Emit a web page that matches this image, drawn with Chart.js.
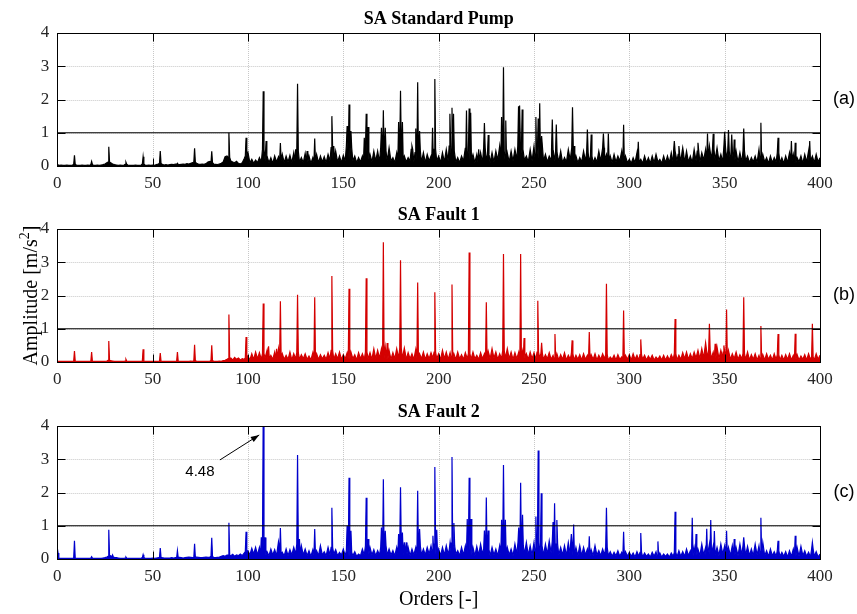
<!DOCTYPE html>
<html>
<head>
<meta charset="utf-8">
<script src="https://cdn.jsdelivr.net/npm/chart.js@4.4.1/dist/chart.umd.min.js"></script>
<style>
  body { margin: 0; background: #fff; }
  #wrap { position: relative; width: 857px; height: 614px; }
  canvas { position: absolute; left: 0; }
</style>
</head>
<body>
<div id="wrap">
  <canvas id="panelA" width="857" height="200" style="top:0px"></canvas>
  <canvas id="panelB" width="857" height="200" style="top:196px"></canvas>
  <canvas id="panelC" width="857" height="221" style="top:393px"></canvas>
</div>
<script>
// axis ticks
const orderTicks = [0, 50, 100, 150, 200, 250, 300, 350, 400];
const ampTicks = [0, 1, 2, 3, 4];
const thresholdLevel = 1;
const floorStep = 1; // noise floor read once per order

// --- SA Standard Pump ---
const peakOrdersA = [9,18,27,36,45,54,63,72,81,90,99,108,109.5,117,125,126,131,135,144,145,
  152,153,154,161,162,163,170,171,172,179,180,181,186,188,189,190,196.8,198,205.9,207,
  207.8,214.6,216,216.8,221,224,226,233,234,235.2,241.9,242.6,243.8,251,252.2,253,254,259.6,261.7,270.2,
  271,278,280,286.4,289,297,304.7,323.6,326,328,336,341,344,350,352,353.7,355,360,369,378,
  385,387,394.6];
const peakAmpsA = [0.32,0.14,0.58,0.11,0.28,0.45,0.08,0.53,0.44,1.0,0.85,2.25,0.75,0.69,0.5,2.47,0.45,0.83,1.5,0.6,
  1.2,1.85,1.05,0.85,1.57,1.17,1.15,1.68,1.15,1.32,2.26,1.32,0.6,1.13,2.52,1.05,1.15,2.62,1.57,1.75,
  1.57,1.67,1.73,1.6,0.5,1.29,0.93,1.47,2.97,1.37,1.8,1.82,1.7,1.47,1.43,1.89,0.9,1.4,1.25,1.77,
  0.6,1.1,0.95,0.98,0.98,1.24,0.73,0.75,0.6,0.55,0.7,0.98,0.97,1.03,1.08,0.95,0.8,1.13,1.3,0.85,
  0.75,0.7,0.75];
const floorA = [
  .04,.02,.03,.02,.02,.03,.02,.02,.03,.05,.03,.02,.02,.03,.02,.02,.03,.02,.05,.02,
  .02,.03,.02,.03,.04,.06,.10,.12,.10,.06,.04,.03,.02,.03,.02,.03,.05,.03,.02,.02,
  .02,.03,.02,.02,.03,.06,.03,.02,.03,.02,.03,.02,.04,.06,.08,.05,.03,.04,.03,.04,
  .05,.04,.06,.05,.04,.05,.06,.05,.07,.06,.08,.10,.12,.08,.06,.05,.06,.05,.07,.12,
  .14,.10,.06,.05,.04,.06,.08,.12,.28,.30,.26,.15,.12,.10,.14,.08,.06,.10,.22,.30,
  .40,.10,.20,.08,.18,.10,.25,.12,.50,.15,.30,.10,.25,.08,.30,.12,.28,.15,.35,.10,
  .30,.12,.32,.10,.40,.15,.45,.12,.25,.10,.38,.12,.30,.08,.25,.12,.35,.10,.30,.12,
  .28,.10,.35,.15,.55,.20,.45,.12,.30,.10,.32,.15,.60,.20,.55,.15,.30,.10,.25,.12,
  .30,.15,.45,.20,.35,.12,.45,.15,.45,.12,.55,.20,.45,.15,.55,.15,.25,.10,.40,.18,
  .55,.20,.30,.12,.25,.15,.50,.12,.40,.20,.45,.12,.40,.10,.35,.15,.30,.20,.50,.15,
  .30,.10,.40,.12,.50,.15,.60,.20,.45,.12,.25,.10,.30,.15,.55,.20,.45,.18,.35,.10,
  .35,.12,.40,.10,.55,.15,.35,.10,.40,.12,.45,.18,.60,.20,.45,.20,.40,.12,.45,.15,
  .50,.20,.60,.25,.50,.18,.30,.12,.50,.15,.60,.20,.50,.22,.60,.15,.35,.12,.30,.18,
  .50,.15,.40,.12,.45,.10,.25,.12,.50,.18,.55,.15,.30,.10,.25,.12,.45,.15,.40,.12,
  .30,.10,.25,.12,.45,.15,.55,.18,.35,.12,.30,.10,.35,.12,.30,.15,.45,.12,.30,.10,
  .20,.08,.25,.10,.40,.12,.20,.08,.30,.10,.25,.08,.30,.10,.35,.12,.20,.08,.30,.10,
  .30,.10,.40,.12,.45,.15,.35,.12,.40,.10,.45,.12,.30,.10,.50,.15,.45,.12,.40,.18,
  .50,.15,.60,.20,.50,.18,.55,.15,.35,.12,.60,.20,.45,.15,.40,.18,.45,.12,.40,.10,
  .45,.15,.30,.10,.25,.12,.30,.10,.50,.15,.35,.12,.25,.08,.30,.10,.25,.12,.40,.10,
  .25,.08,.30,.10,.40,.15,.35,.10,.25,.12,.30,.08,.35,.12,.45,.15,.30,.10,.35,.12,
  .25];

// --- SA Fault 1 ---
const peakOrdersB = [9,18,27,36,45,54,63,72,81,90,99,108,110.8,115,117,126,135,144,153,162,
  171,173,180,182,189,198,207,216,225,234,243,244.8,252,254,261,270,279,288,297,306,
  324,340,342,345,349.6,351,360,369,378,387,396];
const peakAmpsB = [0.33,0.3,0.63,0.08,0.38,0.27,0.3,0.52,0.5,1.43,0.75,1.76,0.47,0.4,1.83,2.02,1.95,2.59,2.2,2.52,
  3.6,0.57,3.06,0.42,2.39,2.1,2.33,3.29,1.8,3.25,3.25,0.72,1.84,0.58,0.84,0.65,0.9,2.35,1.55,0.68,
  1.29,0.58,1.15,0.55,0.5,1.58,1.95,1.08,0.84,0.85,1.15];
const floorB = [
  .02,.02,.02,.02,.02,.02,.02,.02,.02,.03,.02,.02,.02,.02,.02,.02,.02,.02,.03,.02,
  .02,.02,.02,.02,.02,.02,.03,.05,.04,.03,.02,.02,.02,.02,.02,.02,.03,.02,.02,.02,
  .02,.02,.02,.02,.02,.03,.02,.02,.02,.02,.02,.02,.02,.02,.03,.02,.02,.02,.02,.02,
  .02,.02,.02,.03,.02,.02,.02,.02,.02,.02,.03,.02,.04,.03,.02,.02,.02,.02,.02,.02,
  .03,.04,.03,.02,.02,.03,.02,.04,.05,.08,.10,.12,.06,.14,.08,.12,.06,.10,.08,.12,
  .18,.06,.25,.08,.30,.10,.28,.08,.25,.12,.35,.10,.20,.08,.30,.10,.40,.12,.25,.08,
  .20,.08,.30,.06,.25,.10,.28,.08,.22,.10,.25,.08,.18,.06,.28,.10,.25,.08,.22,.10,
  .20,.08,.28,.10,.35,.08,.25,.10,.30,.08,.22,.10,.28,.08,.30,.10,.22,.06,.28,.10,
  .25,.08,.30,.10,.28,.08,.40,.10,.35,.12,.40,.12,.45,.10,.35,.08,.28,.10,.40,.12,
  .42,.10,.30,.08,.28,.10,.25,.08,.38,.12,.25,.10,.30,.08,.25,.10,.28,.12,.30,.10,
  .25,.08,.35,.10,.30,.08,.28,.10,.25,.08,.30,.10,.22,.08,.28,.10,.25,.08,.30,.10,
  .20,.08,.28,.10,.25,.08,.32,.10,.40,.12,.30,.08,.25,.10,.35,.12,.40,.10,.30,.08,
  .28,.10,.30,.08,.32,.12,.25,.08,.30,.10,.28,.08,.30,.12,.25,.08,.22,.10,.28,.08,
  .20,.08,.25,.06,.22,.08,.28,.06,.20,.08,.25,.06,.20,.08,.22,.06,.25,.08,.20,.06,
  .22,.08,.25,.06,.20,.08,.25,.10,.22,.06,.15,.08,.20,.06,.22,.08,.15,.06,.20,.08,
  .22,.06,.25,.08,.20,.06,.22,.08,.20,.06,.18,.08,.20,.06,.15,.08,.18,.06,.20,.06,
  .18,.06,.22,.08,.25,.06,.20,.08,.28,.10,.30,.08,.25,.10,.30,.12,.35,.10,.40,.12,
  .40,.12,.35,.10,.30,.12,.45,.10,.35,.12,.30,.10,.35,.08,.25,.10,.30,.08,.22,.10,
  .25,.08,.30,.06,.22,.08,.25,.06,.20,.08,.22,.06,.25,.08,.20,.06,.25,.08,.22,.06,
  .20,.06,.22,.08,.25,.06,.20,.08,.22,.06,.18,.08,.22,.06,.25,.08,.15,.06,.25,.08,
  .20];

// --- SA Fault 2 ---
const peakOrdersC = [0.4,9,18,27,29,36,45,54,63,72,81,90,99,107,108,109,116,117,126,127,
  135,144,152,153,154,162,163,170,171,172,179,180,181,183,189,190,197,198,199,206,
  207,208,215,216,217,224,225,226,233,234,235,242,243,244,251,252.2,253.8,260,260.8,262,
  269.6,270.8,279,288,297,306,315,324,333,335,340.6,342.7,344.6,351,355,360,369,378,387,396];
const peakAmpsC = [0.18,0.55,0.07,0.88,0.12,0.06,0.13,0.33,0.25,0.46,0.64,1.09,0.82,0.65,4.48,0.65,0.52,0.93,3.13,0.6,
  0.9,1.54,1.0,2.44,0.85,1.84,0.6,0.95,2.4,0.85,0.75,2.16,0.8,0.5,2.05,0.9,0.7,2.77,0.88,0.5,
  3.07,1.08,1.2,2.44,1.2,0.86,1.85,0.86,1.18,2.83,1.18,0.95,2.29,1.33,1.28,3.26,1.98,1.11,1.68,1.17,
  0.75,1.04,0.68,1.54,0.82,0.78,0.53,1.42,1.24,0.75,0.91,1.17,0.84,0.85,0.6,0.65,1.24,0.55,0.7,0.5];
const floorC = [
  .03,.02,.02,.02,.02,.02,.02,.02,.02,.03,.02,.02,.02,.02,.02,.02,.02,.02,.03,.02,
  .02,.02,.02,.02,.03,.04,.06,.08,.10,.06,.05,.04,.03,.02,.02,.02,.03,.02,.02,.02,
  .02,.02,.02,.02,.03,.04,.03,.02,.02,.02,.03,.02,.03,.04,.05,.04,.03,.03,.03,.03,
  .04,.03,.04,.04,.05,.04,.03,.04,.05,.06,.05,.04,.05,.06,.05,.04,.04,.05,.06,.05,
  .06,.08,.05,.04,.05,.06,.08,.10,.08,.12,.12,.10,.14,.08,.12,.10,.15,.10,.18,.22,
  .25,.12,.32,.15,.35,.12,.35,.15,.30,.12,.22,.10,.30,.12,.28,.10,.35,.12,.20,.10,
  .30,.10,.28,.12,.35,.15,.45,.15,.40,.12,.30,.10,.25,.08,.28,.12,.25,.10,.40,.12,
  .22,.10,.35,.12,.35,.15,.28,.10,.20,.12,.30,.10,.25,.08,.20,.10,.22,.08,.15,.10,
  .30,.12,.40,.15,.35,.12,.28,.10,.25,.12,.35,.15,.40,.12,.30,.12,.25,.10,.35,.15,
  .45,.12,.50,.15,.35,.10,.30,.12,.35,.15,.40,.12,.30,.12,.35,.15,.40,.20,.45,.15,
  .30,.10,.35,.12,.40,.15,.30,.12,.40,.15,.25,.10,.35,.12,.40,.15,.30,.12,.35,.10,
  .38,.12,.45,.15,.30,.12,.28,.10,.35,.12,.30,.10,.40,.15,.45,.15,.35,.12,.30,.10,
  .45,.15,.50,.15,.40,.15,.50,.12,.40,.12,.50,.18,.50,.15,.40,.12,.45,.15,.55,.18,
  .55,.15,.45,.12,.35,.12,.40,.10,.50,.15,.45,.12,.35,.10,.40,.10,.35,.12,.30,.10,
  .28,.10,.40,.12,.25,.10,.30,.12,.35,.10,.22,.08,.20,.10,.25,.08,.20,.08,.22,.08,
  .20,.08,.18,.06,.22,.08,.20,.06,.18,.08,.15,.06,.20,.08,.22,.06,.18,.06,.15,.08,
  .15,.06,.18,.08,.20,.06,.25,.08,.22,.08,.30,.10,.25,.10,.35,.12,.30,.10,.45,.12,
  .35,.12,.45,.15,.40,.12,.35,.10,.45,.15,.40,.12,.35,.10,.40,.12,.35,.10,.45,.12,
  .40,.12,.38,.10,.30,.10,.45,.12,.40,.12,.50,.10,.25,.08,.30,.10,.22,.08,.25,.08,
  .20,.08,.22,.06,.25,.08,.30,.10,.35,.08,.38,.10,.25,.08,.20,.06,.30,.08,.22,.06,
  .15];

const serif = '"Liberation Serif", "Times New Roman", serif';
const sans = '"Liberation Sans", Arial, sans-serif';
const spikeHalf = 0.4;

// merge noise floor and spikes into one x-sorted list of points
function spectrum(floor, peakOrders, peakAmps) {
  const pts = [];
  floor.forEach((v, i) => {
    const x = i * floorStep;
    if (!peakOrders.some(p => Math.abs(p - x) <= spikeHalf)) pts.push({ x: x, y: v });
  });
  peakOrders.forEach((p, i) => {
    const base = floor[Math.min(floor.length - 1, Math.round(p / floorStep))];
    pts.push({ x: p - spikeHalf, y: base }, { x: p, y: peakAmps[i] }, { x: p + spikeHalf, y: base });
  });
  return pts.sort((a, b) => a.x - b.x);
}

function line(ctx, x1, y1, x2, y2) {
  ctx.beginPath(); ctx.moveTo(x1, y1); ctx.lineTo(x2, y2); ctx.stroke();
}

const decor = {
  id: 'decor',
  beforeDatasetsDraw(chart) {
    const { ctx, chartArea: a, scales: { x, y } } = chart;
    ctx.save();
    ctx.strokeStyle = '#c8c8c8';
    ctx.lineWidth = 1;
    ctx.setLineDash([1, 1]);
    orderTicks.slice(1, -1).forEach(v => {
      const px = Math.round(x.getPixelForValue(v)) + 0.5;
      line(ctx, px, a.top, px, a.bottom);
    });
    ampTicks.slice(1, -1).forEach(v => {
      const py = Math.round(y.getPixelForValue(v)) + 0.5;
      line(ctx, a.left, py, a.right, py);
    });
    ctx.restore();
  },
  afterDatasetsDraw(chart) {
    const { ctx, chartArea: a, scales: { x, y } } = chart;
    const o = chart.options.plugins.decor;
    const L = Math.round(a.left) + 0.5, R = Math.round(a.right) + 0.5;
    const T = Math.round(a.top) + 0.5, B = Math.round(a.bottom) + 0.5;
    ctx.save();
    ctx.strokeStyle = '#000';
    ctx.lineWidth = 1;
    ctx.strokeRect(L, T, R - L, B - T);
    const tl = 8;
    orderTicks.forEach(v => {
      const px = Math.round(x.getPixelForValue(v)) + 0.5;
      line(ctx, px, B, px, B - tl);
      line(ctx, px, T, px, T + tl);
    });
    ampTicks.forEach(v => {
      const py = Math.round(y.getPixelForValue(v)) + 0.5;
      line(ctx, L, py, L + tl, py);
      line(ctx, R, py, R - tl, py);
    });
    // title
    ctx.fillStyle = '#000';
    ctx.textAlign = 'center';
    ctx.textBaseline = 'middle';
    ctx.font = 'bold 18px ' + serif;
    ctx.fillText(o.title, (a.left + a.right) / 2, a.top - 14);
    // panel tag
    ctx.font = '18px ' + sans;
    ctx.fillText(o.tag, 844, (a.top + a.bottom) / 2);

    if (o.yLabel) {
      ctx.save();
      ctx.translate(30, (a.top + a.bottom) / 2);
      ctx.rotate(-Math.PI / 2);
      const main = 'Amplitude [m/s', sup = '2', end = ']';
      ctx.font = '20px ' + serif;
      const w1 = ctx.measureText(main).width, w3 = ctx.measureText(end).width;
      ctx.font = '14px ' + serif;
      const w2 = ctx.measureText(sup).width;
      const sx = -(w1 + w2 + w3) / 2;
      ctx.textAlign = 'left';
      ctx.textBaseline = 'alphabetic';
      ctx.font = '20px ' + serif;
      ctx.fillText(main, sx, 7);
      ctx.font = '14px ' + serif;
      ctx.fillText(sup, sx + w1, -1);
      ctx.font = '20px ' + serif;
      ctx.fillText(end, sx + w1 + w2, 7);
      ctx.restore();
    }
    if (o.xLabel) {
      ctx.font = '20px ' + serif;
      ctx.textAlign = 'center';
      ctx.fillText('Orders [-]', (a.left + a.right) / 2, a.bottom + 41);
    }
    if (o.note) {
      const x1 = x.getPixelForValue(85.3), y1 = y.getPixelForValue(2.98);
      const x2 = x.getPixelForValue(105.9), y2 = y.getPixelForValue(3.73);
      ctx.lineWidth = 1;
      line(ctx, x1, y1, x2, y2);
      const ang = Math.atan2(y2 - y1, x2 - x1);
      ctx.beginPath();
      ctx.moveTo(x2, y2);
      ctx.lineTo(x2 - 9 * Math.cos(ang - 0.35), y2 - 9 * Math.sin(ang - 0.35));
      ctx.lineTo(x2 - 9 * Math.cos(ang + 0.35), y2 - 9 * Math.sin(ang + 0.35));
      ctx.closePath();
      ctx.fill();
      ctx.font = '15px ' + sans;
      ctx.textAlign = 'center';
      ctx.fillText(o.note, x.getPixelForValue(74.8), y.getPixelForValue(2.61));
    }
    ctx.restore();
  }
};

function panel(id, color, series, padBottom, decorOpts) {
  const tickFont = { family: serif, size: 17 };
  return new Chart(document.getElementById(id), {
    type: 'line',
    data: {
      datasets: [
        {
          data: [{ x: 0, y: thresholdLevel }, { x: 400, y: thresholdLevel }],
          borderColor: '#000', borderWidth: 1, pointRadius: 0, fill: false, order: 0
        },
        {
          data: series,
          borderColor: color, backgroundColor: color,
          borderWidth: 1.2, pointRadius: 0, fill: 'origin', tension: 0, order: 1
        }
      ]
    },
    options: {
      responsive: false,
      animation: false,
      events: [],
      layout: { padding: { left: 37.3, right: 37, top: 33, bottom: padBottom } },
      plugins: { legend: { display: false }, tooltip: { enabled: false }, decor: decorOpts },
      scales: {
        x: {
          type: 'linear', min: 0, max: 400,
          afterBuildTicks: s => { s.ticks = orderTicks.map(v => ({ value: v })); },
          afterFit: s => { s.height = 28; },
          grid: { display: false, drawTicks: false },
          border: { display: false },
          ticks: { font: tickFont, color: '#262626', padding: 7, maxRotation: 0 }
        },
        y: {
          type: 'linear', min: 0, max: 4,
          afterBuildTicks: s => { s.ticks = ampTicks.map(v => ({ value: v })); },
          afterFit: s => { s.width = 20; },
          grid: { display: false, drawTicks: false },
          border: { display: false },
          ticks: { font: tickFont, color: '#262626', padding: 8 }
        }
      }
    },
    plugins: [decor]
  });
}

panel('panelA', '#000000', spectrum(floorA, peakOrdersA, peakAmpsA), 6,
  { title: 'SA Standard Pump', tag: '(a)' });
panel('panelB', '#d40000', spectrum(floorB, peakOrdersB, peakAmpsB), 6,
  { title: 'SA Fault 1', tag: '(b)', yLabel: true });
panel('panelC', '#0000cc', spectrum(floorC, peakOrdersC, peakAmpsC), 27,
  { title: 'SA Fault 2', tag: '(c)', xLabel: true, note: '4.48' });
</script>
</body>
</html>
